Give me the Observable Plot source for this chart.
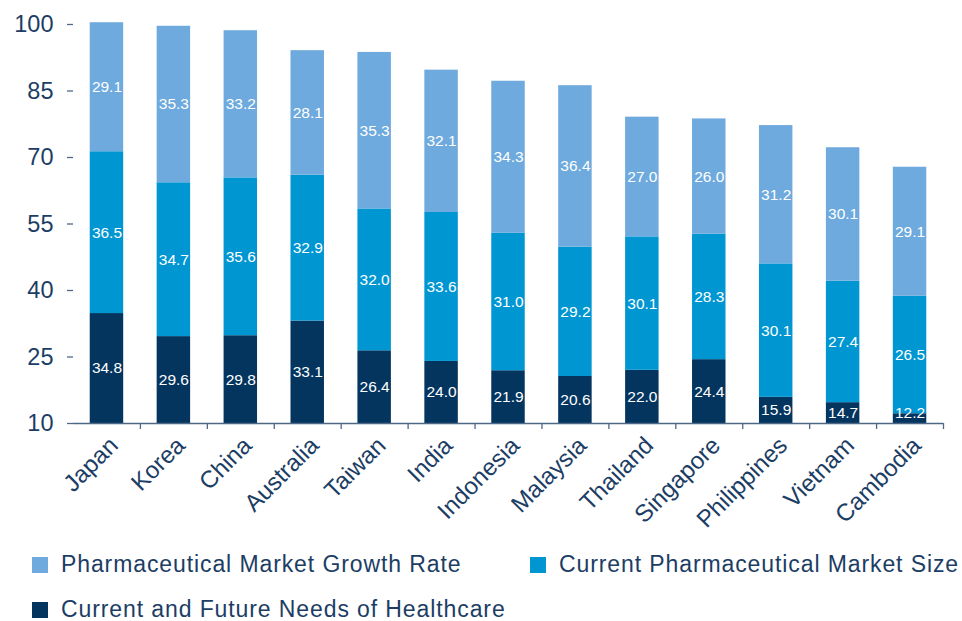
<!DOCTYPE html>
<html>
<head>
<meta charset="utf-8">
<script src="https://cdn.jsdelivr.net/npm/d3@7"></script>
<script src="https://cdn.jsdelivr.net/npm/@observablehq/plot@0.6"></script>
<style>
  body { margin: 0; background: #fff; font-family: "Liberation Sans", Arial, sans-serif; }
  #wrap { position: relative; width: 962px; height: 621px; }
  #chart { position: absolute; left: 0; top: 0; }
  .leg { position: absolute; display: flex; align-items: center; font-size: 23px; color: #1c3d64; letter-spacing: 0.9px; white-space: nowrap; }
  .sw { width: 16px; height: 16px; margin-right: 13px; }
</style>
</head>
<body>
<div id="wrap"><div id="chart"></div></div>
<script>
const countries = ["Japan","Korea","China","Australia","Taiwan","India","Indonesia","Malaysia","Thailand","Singapore","Philippines","Vietnam","Cambodia"];
const needs  = [34.8, 29.6, 29.8, 33.1, 26.4, 24.0, 21.9, 20.6, 22.0, 24.4, 15.9, 14.7, 12.2];
const size   = [36.5, 34.7, 35.6, 32.9, 32.0, 33.6, 31.0, 29.2, 30.1, 28.3, 30.1, 27.4, 26.5];
const growth = [29.1, 35.3, 33.2, 28.1, 35.3, 32.1, 34.3, 36.4, 27.0, 26.0, 31.2, 30.1, 29.1];
const seriesNames = ["Pharmaceutical Market Growth Rate", "Current Pharmaceutical Market Size", "Current and Future Needs of Healthcare"];
const seriesColors = ["#6eaadd", "#0096d2", "#03355f"];
const yTicks = [10, 25, 40, 55, 70, 85, 100];
const yMin = 10;

// build stacked segments (bottom -> top)
const stackOrder = [[seriesNames[2], needs], [seriesNames[1], size], [seriesNames[0], growth]];
const segments = [];
countries.forEach((c, i) => {
  let base = 0;
  for (const [name, arr] of stackOrder) {
    const v = arr[i];
    const lo = Math.max(base, yMin), hi = base + v;
    segments.push({country: c, series: name, value: v, lo, hi, mid: Math.max((lo + hi) / 2, 12.3)});
    base = hi;
  }
});

const W = 962, H = 545, mL = 73, mR = 19, mT = 24, mB = 122;
const step = (W - mL - mR) / countries.length;
const axisColor = "#4f6886", textColor = "#1c3d64";

const chart = Plot.plot({
  width: W, height: H,
  marginLeft: mL, marginRight: mR, marginTop: mT, marginBottom: mB,
  style: {fontFamily: "'Liberation Sans', Arial, sans-serif", background: "transparent"},
  x: {domain: countries, paddingInner: 0.5, paddingOuter: 0.25, round: false, label: null},
  y: {domain: [10, 100], label: null},
  color: {domain: seriesNames, range: seriesColors},
  marks: [
    Plot.barY(segments, {x: "country", y1: "lo", y2: "hi", fill: "series"}),
    Plot.text(segments, {x: "country", y: "mid", text: d => d.value.toFixed(1), fill: "white", fontSize: 15.5}),
    Plot.ruleY([yMin], {stroke: axisColor, strokeWidth: 1.3}),
    Plot.axisY({ticks: yTicks, tickSize: 6, tickPadding: 14, fontSize: 23.5, fill: textColor, stroke: axisColor, strokeWidth: 1.3, line: true, label: null}),
    Plot.axisX({tickSize: 6, dx: step / 2, tickFormat: () => "", stroke: axisColor, strokeWidth: 1.3, label: null}),
    Plot.axisX({tickSize: 0, tickPadding: 18, tickRotate: -45, dx: 7, fontSize: 24, fill: textColor, label: null})
  ]
});
document.getElementById("chart").appendChild(chart);

// legend
const wrap = document.getElementById("wrap");
const legPos = [[32, 565], [530, 565], [32, 610]];
seriesNames.forEach((name, i) => {
  const d = document.createElement("div");
  d.className = "leg";
  d.style.left = legPos[i][0] + "px";
  d.style.top = (legPos[i][1] - 14) + "px";
  d.innerHTML = `<span class="sw" style="background:${seriesColors[i]}"></span><span>${name}</span>`;
  wrap.appendChild(d);
});
</script>
</body>
</html>
